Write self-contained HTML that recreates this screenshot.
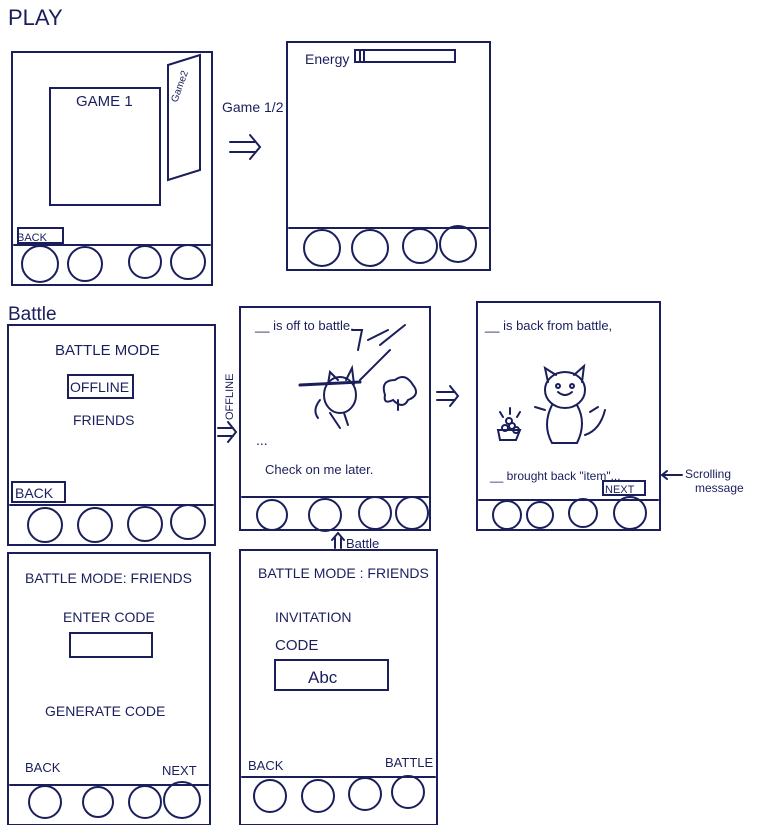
<!DOCTYPE html>
<html><head><meta charset="utf-8"><style>
html,body{margin:0;padding:0;background:#fff;}
svg{display:block}
text{font-family:"Liberation Sans",sans-serif;fill:#1a1f5c;}
</style></head><body>
<svg width="760" height="825" viewBox="0 0 760 825" xmlns="http://www.w3.org/2000/svg">
<g fill="none" stroke="#1a1f5c" stroke-width="2" stroke-linecap="round">
<!-- Frame 1 -->
<rect x="12" y="52" width="200" height="233"/>
<line x1="14" y1="245" x2="210" y2="245"/>
<rect x="50" y="88" width="110" height="117"/>
<polygon points="168,65 200,55 200,170 168,180"/>
<rect x="18" y="228" width="45" height="15"/>
<circle cx="40" cy="264" r="18"/><circle cx="85" cy="264" r="17"/><circle cx="145" cy="262" r="16"/><circle cx="188" cy="262" r="17"/>
<!-- Frame 2 -->
<rect x="287" y="42" width="203" height="228"/>
<line x1="289" y1="228" x2="488" y2="228"/>
<rect x="355" y="50" width="100" height="12"/>
<line x1="360" y1="51" x2="360" y2="61"/><line x1="364" y1="51" x2="364" y2="61"/>
<circle cx="322" cy="248" r="18"/><circle cx="370" cy="248" r="18"/><circle cx="420" cy="246" r="17"/><circle cx="458" cy="244" r="18"/>
<!-- Frame 3 -->
<rect x="8" y="325" width="207" height="220"/>
<line x1="10" y1="505" x2="213" y2="505"/>
<rect x="68" y="375" width="65" height="23"/>
<rect x="12" y="482" width="53" height="20"/>
<circle cx="45" cy="525" r="17"/><circle cx="95" cy="525" r="17"/><circle cx="145" cy="524" r="17"/><circle cx="188" cy="522" r="17"/>
<!-- Frame 4 -->
<rect x="240" y="307" width="190" height="223"/>
<line x1="242" y1="497" x2="428" y2="497"/>
<circle cx="272" cy="515" r="15"/><circle cx="325" cy="515" r="16"/><circle cx="375" cy="513" r="16"/><circle cx="412" cy="513" r="16"/>
<!-- cat running -->
<ellipse cx="340" cy="395" rx="16" ry="18"/>
<path d="M328,384 L330,372 L338,380 M346,380 L352,368 L354,384"/>
<line x1="300" y1="385" x2="360" y2="382" stroke-width="3"/>
<path d="M320,400 q-8,10 -2,18 M330,413 l10,15 M344,413 l4,12"/>
<path d="M352,330 l10,0 l-4,20 M368,340 l20,-10 M380,345 l25,-20 M360,380 l30,-30"/>
<path d="M385,395 q-5,-15 10,-15 q10,-8 18,5 q8,10 -5,15 q-5,10 -15,0 q-10,5 -8,-5z"/>
<line x1="398" y1="400" x2="398" y2="410"/>
<!-- Frame 5 -->
<rect x="477" y="302" width="183" height="228"/>
<line x1="479" y1="500" x2="658" y2="500"/>
<rect x="603" y="481" width="42" height="14"/>
<circle cx="507" cy="515" r="14"/><circle cx="540" cy="515" r="13"/><circle cx="583" cy="513" r="14"/><circle cx="630" cy="513" r="16"/>
<!-- cat sitting -->
<ellipse cx="565" cy="390" rx="20" ry="18"/>
<path d="M548,382 L545,368 L556,375 M574,375 L584,366 L582,382"/>
<path d="M558,392 q7,6 14,0"/>
<circle cx="558" cy="386" r="2"/><circle cx="572" cy="386" r="2"/>
<path d="M552,405 q-10,20 0,38 l25,0 q10,-20 0,-38"/>
<path d="M585,435 q15,-5 20,-25"/>
<path d="M545,410 l-10,-3 M590,412 l8,-5"/>
<path d="M498,430 l22,0 l-4,10 l-16,0z"/>
<circle cx="505" cy="428" r="3"/><circle cx="512" cy="426" r="3"/><circle cx="509" cy="421" r="3"/><circle cx="516" cy="430" r="3"/>
<path d="M500,412 l3,5 M510,408 l0,6 M520,412 l-3,5"/>
<!-- Frame 6 -->
<rect x="8" y="553" width="202" height="272"/>
<line x1="10" y1="785" x2="208" y2="785"/>
<rect x="70" y="633" width="82" height="24"/>
<circle cx="45" cy="802" r="16"/><circle cx="98" cy="802" r="15"/><circle cx="145" cy="802" r="16"/><circle cx="182" cy="800" r="18"/>
<!-- Frame 7 -->
<rect x="240" y="550" width="197" height="275"/>
<line x1="242" y1="777" x2="435" y2="777"/>
<rect x="275" y="660" width="113" height="30"/>
<circle cx="270" cy="796" r="16"/><circle cx="318" cy="796" r="16"/><circle cx="365" cy="794" r="16"/><circle cx="408" cy="792" r="16"/>
<!-- arrows -->
<path d="M230,142 l25,0 M230,152 l25,0 M250,135 l10,12 l-10,12"/>
<path d="M218,428 l15,0 M218,436 l15,0 M228,422 l8,10 l-8,10"/>
<path d="M437,392 l18,0 M437,400 l18,0 M450,386 l8,10 l-8,10"/>
<path d="M335,548 l0,-10 M341,548 l0,-10 M332,540 l6,-7 l6,7"/>
<path d="M682,475 l-20,0 l5,-4 M662,475 l5,4"/>
</g>
<text x="8" y="25" font-size="22">PLAY</text>
<text x="76" y="106" font-size="15">GAME 1</text>
<text x="175" y="100" font-size="10" transform="rotate(-70 178 100)">Game2</text>
<text x="17" y="241" font-size="11">BACK</text>
<text x="222" y="112" font-size="14">Game 1/2</text>
<text x="305" y="64" font-size="14">Energy</text>
<text x="8" y="320" font-size="19">Battle</text>
<text x="55" y="355" font-size="15">BATTLE MODE</text>
<text x="70" y="392" font-size="14">OFFLINE</text>
<text x="73" y="425" font-size="14">FRIENDS</text>
<text x="15" y="498" font-size="14">BACK</text>
<text x="233" y="420" font-size="11" transform="rotate(-90 233 420)">OFFLINE</text>
<text x="255" y="330" font-size="13">__ is off to battle.</text>
<text x="256" y="445" font-size="14">...</text>
<text x="265" y="474" font-size="13">Check on me later.</text>
<text x="485" y="330" font-size="13">__ is back from battle,</text>
<text x="490" y="480" font-size="12">__ brought back "item"...</text>
<text x="605" y="493" font-size="11">NEXT</text>
<text x="685" y="478" font-size="12">Scrolling</text>
<text x="695" y="492" font-size="12">message</text>
<text x="346" y="548" font-size="13">Battle</text>
<text x="25" y="583" font-size="14">BATTLE MODE: FRIENDS</text>
<text x="63" y="622" font-size="14">ENTER CODE</text>
<text x="45" y="716" font-size="14">GENERATE CODE</text>
<text x="25" y="772" font-size="13">BACK</text>
<text x="162" y="775" font-size="13">NEXT</text>
<text x="258" y="578" font-size="14">BATTLE MODE : FRIENDS</text>
<text x="275" y="622" font-size="14">INVITATION</text>
<text x="275" y="650" font-size="15">CODE</text>
<text x="308" y="683" font-size="17">Abc</text>
<text x="248" y="770" font-size="13">BACK</text>
<text x="385" y="767" font-size="13">BATTLE</text>
</svg>
</body></html>
